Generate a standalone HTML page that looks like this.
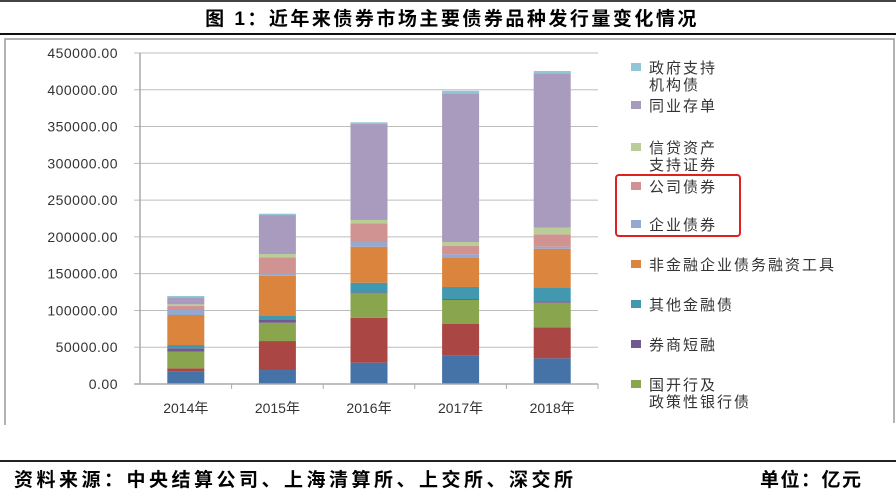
<!DOCTYPE html>
<html><head><meta charset="utf-8">
<style>
body{margin:0;background:#fff;width:896px;height:495px;overflow:hidden;font-family:"Liberation Sans","Noto Sans CJK SC",sans-serif;}
svg text{font-family:"Liberation Sans","Noto Sans CJK SC",sans-serif;}
</style></head>
<body>
<svg id="chart" width="896" height="495" xmlns="http://www.w3.org/2000/svg">
  <line x1="0" y1="1" x2="896" y2="1" stroke="#444" stroke-width="2"/>
  <text x="452" y="25" text-anchor="middle" font-size="19" font-weight="bold" letter-spacing="2.5" fill="#000">图 1：近年来债券市场主要债券品种发行量变化情况</text>
  <line x1="0" y1="34" x2="896" y2="34" stroke="#111" stroke-width="2"/>
  <path d="M5 425 V39 H894 V423" fill="none" stroke="#999" stroke-width="1.5"/>
  <g id="grid"></g>
  <g id="bars"></g>
  <g id="axes"></g>
  <g id="legend"></g>
  <rect x="616" y="175" width="124" height="61" rx="3" fill="none" stroke="#e02020" stroke-width="2"/>
  <line x1="0" y1="461" x2="896" y2="461" stroke="#222" stroke-width="2"/>
  <text x="14" y="486" font-size="19" font-weight="bold" letter-spacing="3.5" fill="#000">资料来源：中央结算公司、上海清算所、上交所、深交所</text>
  <text x="760" y="486" font-size="19" font-weight="bold" letter-spacing="1.5" fill="#000">单位：亿元</text>
</svg>
<script>
const categories=["2014年","2015年","2016年","2017年","2018年"];
const yTicks=[0,50000,100000,150000,200000,250000,300000,350000,400000,450000];
const seriesNames=["gov-bond","local-gov-bond","policy-bank-bond","broker-short-term","other-financial-bond","nonfinancial-debt","enterprise-bond","corporate-bond","abs","ncd","gov-agency-bond"];
const sBlue=[16700,19000,29000,38500,34900];
const sRed=[4600,39400,61100,43100,42200];
const sGreen=[22600,24900,33200,32600,33400];
const sPurple=[4600,3700,1000,1300,1800];
const sTeal=[4500,6400,13400,16400,18200];
const sOrange=[40800,53800,48900,40300,53400];
const sLightBlue=[6800,2300,6400,4100,2700];
const sPink=[5400,22700,25500,11300,16900];
const sLightGreen=[2300,4500,4500,5400,9000];
const sLavender=[9600,53000,130400,202200,209900];
const sSky=[1700,1800,2400,3500,3100];
const seriesValues=[sBlue,sRed,sGreen,sPurple,sTeal,sOrange,sLightBlue,sPink,sLightGreen,sLavender,sSky];
const colors=["#4572A7","#AA4643","#89A54E","#71588F","#4198AF","#DB843D","#93A9CF","#D19392","#B9CD96","#A99BBD","#92C5D6"];
const legendLines=[["政府支持","机构债"],["同业存单"],["信贷资产","支持证券"],["公司债券"],["企业债券"],["非金融企业债务融资工具"],["其他金融债"],["券商短融"],["国开行及","政策性银行债"]];
const legendColorIdx=[10,9,8,7,6,5,4,3,2];
const legendY=[67,105,147,186,224,264,304,344,384];

const NS="http://www.w3.org/2000/svg";
const X0=140,X1=598,Y0=384,Y1=53,YMAX=450000;
const y=v=>Y0-(v/YMAX)*(Y0-Y1);
const bandW=(X1-X0)/categories.length;
const xc=i=>X0+bandW*(i+0.5);
function mk(tag,attrs){const e=document.createElementNS(NS,tag);for(const k in attrs)e.setAttribute(k,attrs[k]);return e;}
const grid=document.getElementById('grid'),bars=document.getElementById('bars'),axes=document.getElementById('axes'),legend=document.getElementById('legend');
yTicks.forEach(t=>{
  if(t>0){const l=mk('line',{x1:X0-6,x2:X1,y1:y(t),y2:y(t),stroke:'#bdbdbd','stroke-width':1});
  
  
  grid.appendChild(l);}
  const tx=mk('text',{x:118,y:y(t)+5,'text-anchor':'end','font-size':14,fill:'#333','letter-spacing':'0.5'});
  tx.textContent=t.toFixed(2);
  
  
  axes.appendChild(tx);
});
const ya=mk('line',{x1:X0,x2:X0,y1:Y1,y2:Y0,stroke:'#aaa','stroke-width':1.5});


axes.appendChild(ya);
const xa=mk('line',{x1:X0-6,x2:X1,y1:Y0,y2:Y0,stroke:'#aaa','stroke-width':1.5});


axes.appendChild(xa);
categories.forEach((c,i)=>{
  const tk=mk('line',{x1:X0+bandW*(i+1),x2:X0+bandW*(i+1),y1:Y0,y2:Y0+5,stroke:'#aaa'});
  
  
  axes.appendChild(tk);
  const tx=mk('text',{x:xc(i),y:413,'text-anchor':'middle','font-size':14,fill:'#333'});
  tx.textContent=c;
  
  
  axes.appendChild(tx);
  let cum=0;
  seriesValues.forEach((s,k)=>{
    const v=s[i];const top=y(cum+v),bot=y(cum);cum+=v;
    const r=mk('rect',{x:xc(i)-18.5,y:top,width:37,height:Math.max(0,bot-top),fill:colors[k]});
    
    
    bars.appendChild(r);
  });
});
legendLines.forEach((lines,j)=>{
  const yy=legendY[j];
  const g=mk('g',{});
  
  
  g.appendChild(mk('rect',{x:631,y:yy-4,width:10,height:8,fill:colors[legendColorIdx[j]]}));
  lines.forEach((ln,m)=>{
    const t=mk('text',{x:649,y:yy+6+m*17,'font-size':15,fill:'#333','letter-spacing':'2'});
    t.textContent=ln;
    g.appendChild(t);
  });
  legend.appendChild(g);
});
</script>
</body></html>
